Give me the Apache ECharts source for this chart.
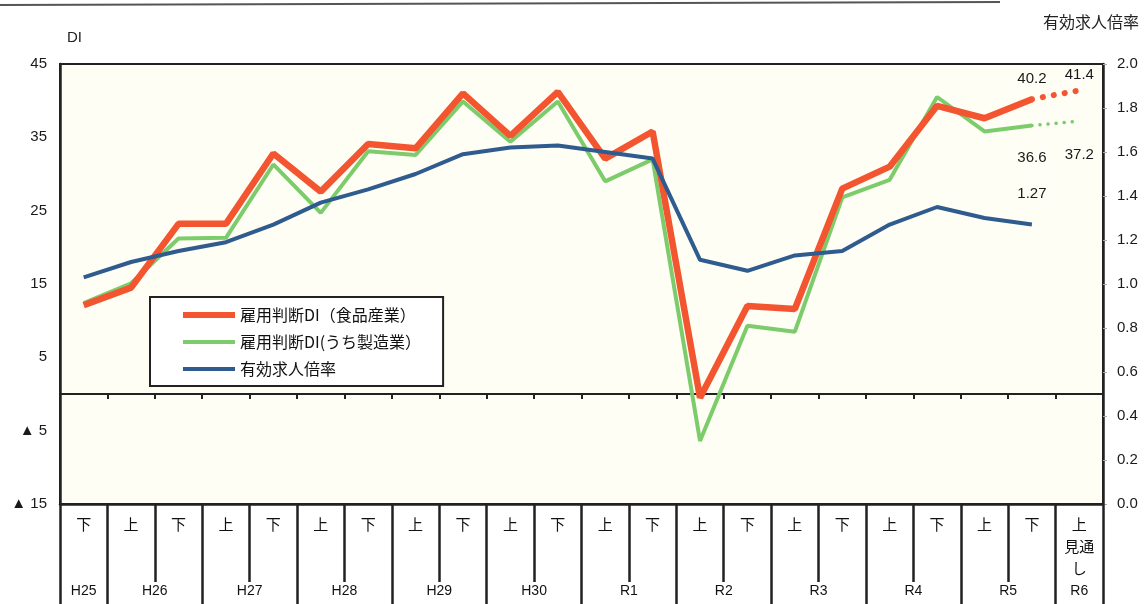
<!DOCTYPE html>
<html>
<head>
<meta charset="utf-8">
<script src="https://cdn.jsdelivr.net/npm/echarts@6/dist/echarts.min.js"></script>
<style>
html,body{margin:0;padding:0;background:#ffffff;}
#c{width:1146px;height:604px;}
</style>
</head>
<body>
<div id="c"></div>
<script>
// ---- data ----
const periods = ['H25下','H26上','H26下','H27上','H27下','H28上','H28下','H29上','H29下','H30上','H30下',
                 'R1上','R1下','R2上','R2下','R3上','R3下','R4上','R4下','R5上','R5下','R6上'];
const halfLabels = ['下','上','下','上','下','上','下','上','下','上','下',
                    '上','下','上','下','上','下','上','下','上','下','上\n見通\nし'];
const yearLabels = ['H25','H26','H27','H28','H29','H30','R1','R2','R3','R4','R5','R6'];
const leftTickValues = [-15, -5, 5, 15, 25, 35, 45];
const leftTickLabels = ['▲ 15', '▲ 5', '5', '15', '25', '35', '45'];

const foodDI = [12.1, 14.5, 23.2, 23.2, 32.8, 27.6, 34.1, 33.5, 41.0, 35.2, 41.2,
                32.1, 35.8, -0.5, 12.0, 11.6, 28.0, 31.0, 39.3, 37.6, 40.2];
const foodForecast = 41.4;
const mfgDI  = [12.4, 15.1, 21.2, 21.3, 31.3, 24.7, 33.1, 32.6, 39.9, 34.4, 39.9,
                29.0, 32.0, -6.4, 9.3, 8.5, 26.8, 29.2, 40.5, 35.8, 36.6];
const mfgForecast = 37.2;
const jobRatio = [1.03, 1.10, 1.15, 1.19, 1.27, 1.37, 1.43, 1.50, 1.59, 1.62, 1.63,
                  1.60, 1.57, 1.11, 1.06, 1.13, 1.15, 1.27, 1.35, 1.30, 1.27];

const seriesNames = ['雇用判断DI（食品産業）', '雇用判断DI(うち製造業）', '有効求人倍率'];
const colors = { food: '#f2552f', mfg: '#7dcc6c', job: '#2f5b8f' };

// ---- helpers ----
const last = foodDI.length - 1;
const LBL = { fontFamily: 'Liberation Sans', fontSize: 15, color: '#1a1a1a' };
function withLabel(arr, idx, pos, dist, fmt) {
  return arr.map((v, i) => i === idx ? {
    value: v,
    label: Object.assign({ show: true, position: pos, distance: dist, formatter: fmt || (p => p.value) }, LBL)
  } : v);
}
function forecastData(arr, fc) {
  return periods.map((_, i) => i === last ? arr[last] : (i === last + 1 ? fc : null));
}
const CJK = '"Noto Sans CJK JP", "Noto Sans", sans-serif';
const HIDDEN = { color: 'rgba(0,0,0,0)', borderWidth: 0 };

const chart = echarts.init(document.getElementById('c'), null, { renderer: 'canvas' });
chart.setOption({
  backgroundColor: '#ffffff',
  animation: false,
  title: [
    { text: 'DI', left: 62, top: 25, textStyle: { fontFamily: 'Liberation Sans', fontSize: 15, fontWeight: 'normal', color: '#222' } },
    { text: '有効求人倍率', right: 2, top: 9, textStyle: { fontFamily: CJK, fontSize: 16, fontWeight: 'normal', color: '#222' } }
  ],
  graphic: [
    { type: 'line', shape: { x1: 0, y1: 5, x2: 1000, y2: 2 }, style: { stroke: '#555', lineWidth: 2 } }
  ],
  legend: {
    data: [
      { name: seriesNames[0], lineStyle: { width: 6, color: colors.food } },
      { name: seriesNames[1], lineStyle: { width: 4, color: colors.mfg } },
      { name: seriesNames[2], lineStyle: { width: 4, color: colors.job } }
    ],
    orient: 'vertical',
    left: 150, top: 297,
    itemWidth: 52, itemHeight: 16, itemGap: 11,
    padding: [10, 22, 9, 30],
    backgroundColor: '#ffffff',
    borderColor: '#222', borderWidth: 2,
    itemStyle: { color: 'rgba(0,0,0,0)', borderWidth: 0, opacity: 0 },
    textStyle: { fontFamily: CJK, fontSize: 16, color: '#111' }
  },
  grid: {
    left: 60, right: 43, top: 64, bottom: 100,
    show: true, backgroundColor: '#fffef4', borderColor: '#222', borderWidth: 2,
    outerBoundsMode: 'none'
  },
  xAxis: [
    { // series axis, on the zero line
      type: 'category', data: periods, position: 'bottom',
      axisLine: { onZero: true, onZeroAxisIndex: 0, lineStyle: { color: '#222', width: 2 } },
      axisTick: { show: true, length: 5, interval: 0, lineStyle: { color: '#222', width: 2 } },
      axisLabel: { show: false }, splitLine: { show: false }
    },
    { // half-year row of the table
      type: 'category', data: halfLabels, position: 'bottom',
      axisLine: { onZero: false, lineStyle: { color: '#222', width: 2.5 } },
      axisTick: { show: true, length: 78, interval: 0, lineStyle: { color: '#222', width: 2.5 } },
      axisLabel: { interval: 0, margin: 9, fontFamily: CJK, fontSize: 15, lineHeight: 22, color: '#111', verticalAlign: 'top' },
      splitLine: { show: false }
    },
    { // year boundaries
      type: 'category', data: periods, position: 'bottom',
      axisLine: { show: false, onZero: false },
      axisTick: { show: true, length: 100, interval: (i) => i === 0 || i % 2 === 1, lineStyle: { color: '#222', width: 2.5 } },
      axisLabel: { show: false }, splitLine: { show: false }
    },
    { // year labels
      type: 'value', min: 0, max: periods.length, interval: 0.5, position: 'bottom',
      axisLine: { show: false, onZero: false }, axisTick: { show: false }, splitLine: { show: false },
      axisLabel: {
        margin: 80, hideOverlap: false, fontFamily: 'Liberation Sans', fontSize: 14, color: '#111',
        formatter: (v) => {
          if (Math.abs(v - 0.5) < 1e-6) return yearLabels[0];
          if (Math.abs(v - (periods.length - 0.5)) < 1e-6) return yearLabels[yearLabels.length - 1];
          const k = Math.round(v);
          if (Math.abs(v - k) < 1e-6 && k % 2 === 0 && k >= 2 && k <= periods.length - 2) return yearLabels[k / 2];
          return '';
        }
      }
    }
  ],
  yAxis: [
    {
      type: 'value', min: -15, max: 45, interval: 5, position: 'left',
      axisLine: { show: true, onZero: false, lineStyle: { color: '#222', width: 2.5 } },
      axisTick: { show: false }, splitLine: { show: false },
      axisLabel: {
        margin: 13, fontFamily: 'Liberation Sans', fontSize: 15, color: '#1a1a1a',
        formatter: (v) => { const k = leftTickValues.indexOf(Math.round(v)); return k >= 0 ? leftTickLabels[k] : ''; }
      }
    },
    {
      type: 'value', min: 0, max: 2, interval: 0.2, position: 'right',
      axisLine: { show: true, onZero: false, lineStyle: { color: '#222', width: 2.5 } },
      axisTick: { show: true, length: 4, lineStyle: { color: '#aaa', width: 1 } }, splitLine: { show: false },
      axisLabel: { margin: 14, fontFamily: 'Liberation Sans', fontSize: 15, color: '#1a1a1a', formatter: (v) => v.toFixed(1) }
    }
  ],
  series: [
    {
      name: seriesNames[1], type: 'line', yAxisIndex: 0, symbol: 'circle', symbolSize: 2, z: 3,
      data: withLabel(mfgDI, last, 'bottom', 24),
      lineStyle: { color: colors.mfg, width: 4 }, itemStyle: HIDDEN
    },
    {
      name: 'mfgForecast', type: 'line', yAxisIndex: 0, symbol: 'circle', symbolSize: 2, z: 3,
      data: withLabel(forecastData(mfgDI, mfgForecast), last + 1, 'bottom', 25),
      lineStyle: { color: colors.mfg, width: 3.5, type: [0.1, 8], cap: 'round' }, itemStyle: HIDDEN
    },
    {
      name: seriesNames[0], type: 'line', yAxisIndex: 0, symbol: 'circle', symbolSize: 2, z: 4,
      data: withLabel(foodDI, last, 'top', 12),
      lineStyle: { color: colors.food, width: 6.5 }, itemStyle: HIDDEN
    },
    {
      name: 'foodForecast', type: 'line', yAxisIndex: 0, symbol: 'circle', symbolSize: 2, z: 4,
      data: withLabel(forecastData(foodDI, foodForecast), last + 1, 'top', 7),
      lineStyle: { color: colors.food, width: 6, type: [0.1, 11], cap: 'round' }, itemStyle: HIDDEN
    },
    {
      name: seriesNames[2], type: 'line', yAxisIndex: 1, symbol: 'circle', symbolSize: 2, z: 5,
      data: withLabel(jobRatio, last, 'top', 22, p => p.value.toFixed(2)),
      lineStyle: { color: colors.job, width: 4 }, itemStyle: HIDDEN
    }
  ]
});
</script>
</body>
</html>
